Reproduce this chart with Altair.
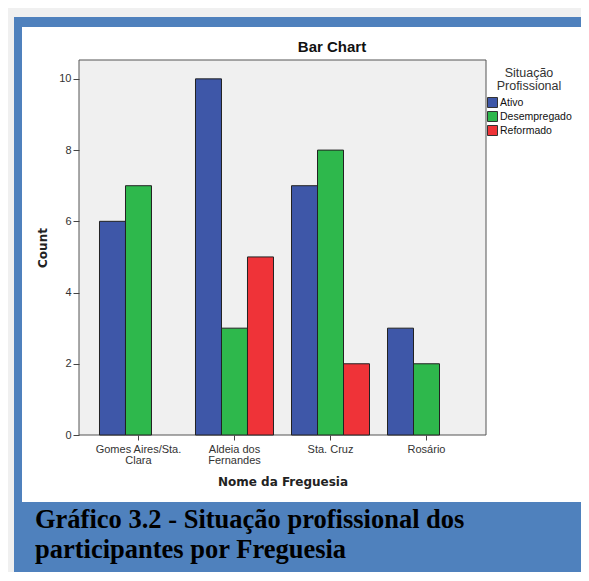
import json
import altair as alt
import pandas as pd

# ---- data ----
freguesias = ["Gomes Aires/Sta. Clara", "Aldeia dos Fernandes", "Sta. Cruz", "Rosário"]
tick_labels = [["Gomes Aires/Sta.", "Clara"], ["Aldeia dos", "Fernandes"], ["Sta. Cruz"], ["Rosário"]]
situacoes = ["Ativo", "Desempregado", "Reformado"]
ativo = [6, 10, 7, 3]
desempregado = [7, 3, 8, 2]
reformado = [0, 5, 2, 0]
colors = ["#3e57a8", "#2eb84c", "#ef3338"]
y_ticks = [0, 2, 4, 6, 8, 10]
chart_title = "Bar Chart"
legend_title = ["Situação", "Profissional"]
caption = ["Gráfico 3.2 - Situação profissional dos", "participantes por Freguesia"]

rows = []
for i, f in enumerate(freguesias):
    for s, vals in zip(situacoes, [ativo, desempregado, reformado]):
        if vals[i] > 0:
            rows.append({"freguesia": f, "situacao": s, "count": vals[i]})
df = pd.DataFrame(rows)
one = pd.DataFrame({"k": [0]})

W, H = 407, 375
PAD_L, PAD_T, PAD_R, PAD_B = 71, 52, 95, 137
label_map = json.dumps({f: t for f, t in zip(freguesias, tick_labels)}, ensure_ascii=False)

bars = alt.Chart(df).mark_bar(stroke="#222222", strokeWidth=1).encode(
    x=alt.X(
        "freguesia:N",
        sort=freguesias,
        scale=alt.Scale(domain=freguesias, paddingInner=0.1875, paddingOuter=0.2135),
        axis=alt.Axis(
            title="Nome da Freguesia",
            titleFont="DejaVu Sans", titleFontWeight="bold", titleFontSize=12, titleColor="#222222",
            titleY=46, titleBaseline="middle",
            labelExpr=label_map + "[datum.value]",
            labelAngle=0, labelFont="Liberation Sans", labelFontSize=11, labelColor="#333333",
            labelLineHeight=11, labelPadding=3, labelBaseline="top",
            tickSize=5, tickColor="#444444", domain=False, grid=False, zindex=1,
        ),
    ),
    xOffset=alt.XOffset("situacao:N", scale=alt.Scale(domain=situacoes, paddingInner=0, paddingOuter=0)),
    y=alt.Y(
        "count:Q",
        scale=alt.Scale(domain=[0, 10.53], nice=False, zero=True),
        axis=alt.Axis(
            values=y_ticks, title="Count",
            titleFont="DejaVu Sans", titleFontWeight="bold", titleFontSize=12, titleColor="#222222",
            titleX=-37, titleY=H / 2, titleAngle=270, titleBaseline="middle", titleAlign="center",
            labelFont="Liberation Sans", labelFontSize=11, labelColor="#333333", labelPadding=2,
            tickSize=6, tickColor="#444444", domain=False, grid=False, zindex=1,
        ),
    ),
    color=alt.Color(
        "situacao:N",
        scale=alt.Scale(domain=situacoes, range=colors),
        title=legend_title,
        legend=alt.Legend(
            orient="none", legendX=408, legendY=7, padding=0,
            titleFont="Liberation Sans", titleFontSize=12.5, titleFontWeight="normal", titleColor="#333333",
            titleAnchor="middle", titleAlign="center", titleLineHeight=12.5, titlePadding=5,
            labelFont="Liberation Sans", labelFontSize=10.5, labelColor="#111111", labelOffset=2,
            symbolType="square", symbolSize=100, symbolStrokeColor="#333333", symbolStrokeWidth=1,
            symbolOpacity=1, rowPadding=-1, zindex=1,
        ),
    ),
)

blue_frame = alt.Chart(one).mark_rect(fill="#4f81bd").encode(
    x=alt.value(-65), x2=alt.value(520), y=alt.value(-43), y2=alt.value(530)
)
white_panel = alt.Chart(one).mark_rect(fill="#ffffff").encode(
    x=alt.value(-57), x2=alt.value(520), y=alt.value(-33), y2=alt.value(442)
)
plot_bg = alt.Chart(one).mark_rect(fill="#f0f0f0", stroke="#555555", strokeWidth=1).encode(
    x=alt.value(0), x2=alt.value(W), y=alt.value(0), y2=alt.value(H)
)
title = alt.Chart(one).mark_text(
    text=chart_title, font="Liberation Sans", fontWeight="bold", fontSize=15,
    align="center", baseline="middle", color="#111111",
).encode(x=alt.value(253), y=alt.value(-13))
cap = alt.Chart(one).mark_text(
    text=caption, font="Liberation Serif", fontWeight="bold", fontSize=26.5,
    align="left", baseline="alphabetic", lineHeight=30, color="#000000",
).encode(x=alt.value(-44), y=alt.value(468))

chart = alt.layer(blue_frame, white_panel, plot_bg, bars, title, cap).properties(
    width=W, height=H,
    padding={"left": PAD_L, "top": PAD_T, "right": PAD_R, "bottom": PAD_B},
    autosize=alt.AutoSizeParams(type="none"),
    background="#f0f0f0",
).configure_view(stroke="transparent")

chart.save("out.html", embed_options={"renderer": "svg", "actions": False})
